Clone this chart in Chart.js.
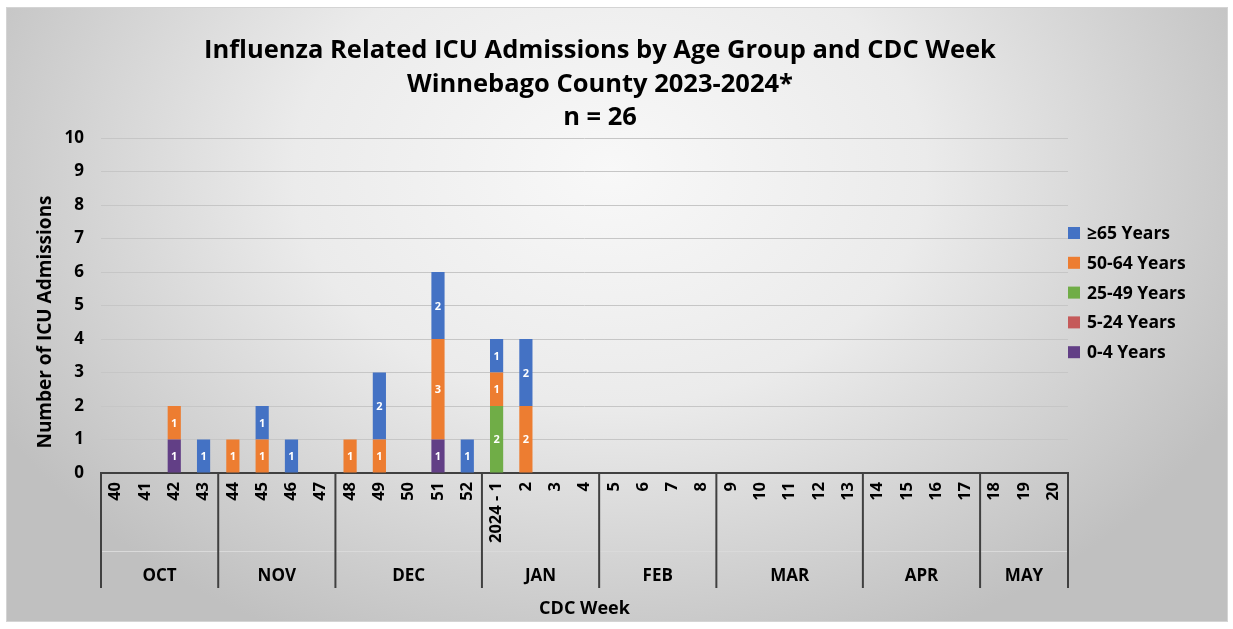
<!DOCTYPE html>
<html>
<head>
<meta charset="utf-8">
<title>Influenza ICU Admissions</title>
<script src="https://cdn.jsdelivr.net/npm/chart.js@4.4.0/dist/chart.umd.min.js"></script>
<style>
  html, body { margin: 0; padding: 0; background: #fff; }
  #wrap { width: 1233px; height: 629px; }
</style>
</head>
<body>
<div id="wrap"><canvas id="myChart" width="1233" height="629"></canvas></div>
<script>
// semanas CDC (categorias del eje x)
const weeks = ["40", "41", "42", "43", "44", "45", "46", "47", "48", "49", "50", "51", "52",
  "2024 - 1", "2", "3", "4", "5", "6", "7", "8", "9", "10", "11", "12", "13",
  "14", "15", "16", "17", "18", "19", "20"];
const months = ["OCT", "NOV", "DEC", "JAN", "FEB", "MAR", "APR", "MAY"];
const weeksPerMonth = [4, 4, 5, 4, 4, 5, 4, 3];

const ageGroups = ["0-4 Years", "5-24 Years", "25-49 Years", "50-64 Years", "≥65 Years"];
const ageColors = ["#623f86", "#c55a5a", "#70ad47", "#ed7d31", "#4472c4"];

const age0to4 =   [0, 0, 1, 0, 0, 0, 0, 0, 0, 0, 0, 1, 0, 0, 0, 0, 0, 0, 0, 0, 0, 0, 0, 0, 0, 0, 0, 0, 0, 0, 0, 0, 0];
const age5to24 =  [0, 0, 0, 0, 0, 0, 0, 0, 0, 0, 0, 0, 0, 0, 0, 0, 0, 0, 0, 0, 0, 0, 0, 0, 0, 0, 0, 0, 0, 0, 0, 0, 0];
const age25to49 = [0, 0, 0, 0, 0, 0, 0, 0, 0, 0, 0, 0, 0, 2, 0, 0, 0, 0, 0, 0, 0, 0, 0, 0, 0, 0, 0, 0, 0, 0, 0, 0, 0];
const age50to64 = [0, 0, 1, 0, 1, 1, 0, 0, 1, 1, 0, 3, 0, 1, 2, 0, 0, 0, 0, 0, 0, 0, 0, 0, 0, 0, 0, 0, 0, 0, 0, 0, 0];
const age65plus = [0, 0, 0, 1, 0, 1, 1, 0, 0, 2, 0, 2, 1, 1, 2, 0, 0, 0, 0, 0, 0, 0, 0, 0, 0, 0, 0, 0, 0, 0, 0, 0, 0];

const yTicks = [0, 10, 1]; // min, max, paso

const FONT = "'Open Sans', 'DejaVu Sans', sans-serif";
const titleLines = ["Influenza Related ICU Admissions by Age Group and CDC Week",
  "Winnebago County 2023-2024*", "n = 26"];

const seriesData = [age0to4, age5to24, age25to49, age50to64, age65plus];

const extras = {
  id: "extras",
  beforeDraw(chart) {
    const ctx = chart.ctx;
    ctx.save();
    ctx.fillStyle = "#fff";
    ctx.fillRect(0, 0, chart.width, chart.height);
    // fondo con degradado radial
    ctx.beginPath();
    ctx.rect(6, 7, 1222, 615);
    ctx.clip();
    ctx.translate(610, 170);
    ctx.scale(1.35, 1);
    const g = ctx.createRadialGradient(0, 0, 0, 0, 0, 520);
    g.addColorStop(0, "#f8f8f8");
    g.addColorStop(0.45, "#ebebeb");
    g.addColorStop(1, "#c0c0c0");
    ctx.fillStyle = g;
    ctx.fillRect(-700, -300, 1400, 900);
    ctx.restore();
    ctx.save();
    ctx.strokeStyle = "#d4d4d4";
    ctx.lineWidth = 1;
    ctx.strokeRect(6.5, 7.5, 1221, 614);
    ctx.restore();
  },
  afterDatasetsDraw(chart) {
    const ctx = chart.ctx;
    ctx.save();
    ctx.fillStyle = "#fff";
    ctx.font = "bold 11px " + FONT;
    ctx.textAlign = "center";
    ctx.textBaseline = "middle";
    chart.data.datasets.forEach((ds, i) => {
      const meta = chart.getDatasetMeta(i);
      meta.data.forEach((bar, j) => {
        const v = ds.data[j];
        if (!v) return;
        ctx.fillText(String(v), bar.x, (bar.y + bar.base) / 2 + 1);
      });
    });
    ctx.restore();
  },
  afterDraw(chart) {
    const ctx = chart.ctx;
    const area = chart.chartArea;
    const x = chart.scales.x;
    ctx.save();
    ctx.fillStyle = "#000";
    // titulo
    ctx.font = "bold 25.5px " + FONT;
    ctx.textAlign = "center";
    ctx.textBaseline = "middle";
    titleLines.forEach((t, i) => ctx.fillText(t, 600, 51 + i * 33.5));

    // titulo eje y
    ctx.save();
    ctx.translate(46, 322);
    ctx.rotate(-Math.PI / 2);
    ctx.font = "bold 19px " + FONT;
    ctx.fillText("Number of ICU Admissions", 0, 0);
    ctx.restore();

    // titulo eje x
    ctx.font = "bold 18px " + FONT;
    ctx.fillText("CDC Week", (area.left + area.right) / 2, 609);

    // cajas de meses
    const bottom = 588;
    ctx.strokeStyle = "#dadada";
    ctx.lineWidth = 1;
    ctx.beginPath();
    ctx.moveTo(area.left, 551.5);
    ctx.lineTo(area.right, 551.5);
    ctx.stroke();
    ctx.strokeStyle = "#404040";
    ctx.lineWidth = 2;
    ctx.font = "bold 17px " + FONT;
    let start = 0;
    weeksPerMonth.forEach((n, m) => {
      const left = start === 0 ? area.left : (x.getPixelForValue(start - 1) + x.getPixelForValue(start)) / 2;
      const end = start + n;
      const right = end >= weeks.length ? area.right : (x.getPixelForValue(end - 1) + x.getPixelForValue(end)) / 2;
      ctx.beginPath();
      ctx.moveTo(left, area.bottom);
      ctx.lineTo(left, bottom);
      ctx.stroke();
      if (end >= weeks.length) {
        ctx.beginPath();
        ctx.moveTo(right, area.bottom);
        ctx.lineTo(right, bottom);
        ctx.stroke();
      }
      ctx.fillText(months[m], (left + right) / 2, 576);
      start = end;
    });

    // leyenda (orden inverso)
    ctx.textAlign = "left";
    ctx.font = "bold 17.5px " + FONT;
    for (let i = ageGroups.length - 1; i >= 0; i--) {
      const y = 233 + (ageGroups.length - 1 - i) * 29.8;
      ctx.fillStyle = ageColors[i];
      ctx.fillRect(1068, y - 6, 12, 12);
      ctx.fillStyle = "#000";
      ctx.fillText(ageGroups[i], 1087, y + 1);
    }
    ctx.restore();
  }
};

const ctx = document.getElementById("myChart").getContext("2d");
new Chart(ctx, {
  type: "bar",
  data: {
    labels: weeks,
    datasets: ageGroups.map((name, i) => ({
      label: name,
      data: seriesData[i],
      backgroundColor: ageColors[i],
      barPercentage: 0.45,
      categoryPercentage: 1
    }))
  },
  options: {
    responsive: false,
    animation: false,
    layout: { padding: { left: 8, right: 165, top: 138, bottom: 0 } },
    plugins: {
      legend: { display: false },
      title: { display: false },
      tooltip: { enabled: false }
    },
    scales: {
      x: {
        stacked: true,
        grid: { display: false, drawTicks: false },
        border: { color: "#404040", width: 2 },
        ticks: {
          autoSkip: false,
          minRotation: 90,
          maxRotation: 90,
          padding: 9,
          color: "#000",
          font: { family: FONT, weight: "bold", size: 16.5 }
        },
        afterFit(scale) { scale.height = 156; }
      },
      y: {
        stacked: true,
        min: yTicks[0],
        max: yTicks[1],
        grid: { color: "#c6c6c6", drawTicks: false },
        border: { display: false },
        ticks: {
          stepSize: yTicks[2],
          padding: 17,
          color: "#000",
          font: { family: FONT, weight: "bold", size: 17 }
        },
        afterFit(scale) { scale.width = 93; }
      }
    }
  },
  plugins: [extras]
});
</script>
</body>
</html>
